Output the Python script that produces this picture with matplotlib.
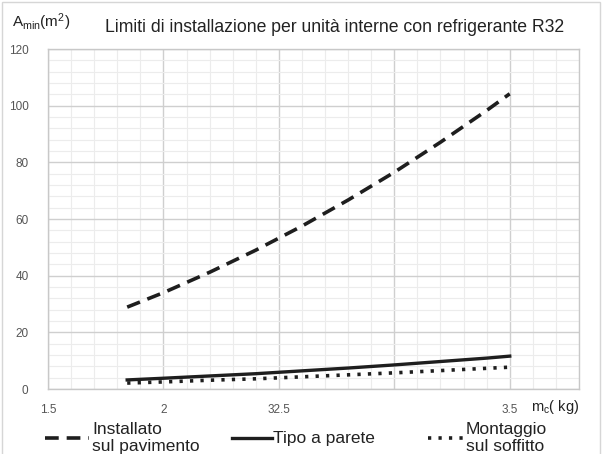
import matplotlib
matplotlib.use("Agg")
import matplotlib.pyplot as plt
from matplotlib.lines import Line2D
from matplotlib.patches import Rectangle
from matplotlib.ticker import MultipleLocator

plt.rcParams['font.family'] = ['Liberation Sans', 'DejaVu Sans']
plt.rcParams['mathtext.fontset'] = 'custom'
plt.rcParams['mathtext.rm'] = 'Liberation Sans'
plt.rcParams['mathtext.it'] = 'Liberation Sans'

# Data
mc = [1.843, 2.0, 2.2, 2.4, 2.6, 2.8, 3.0, 3.2, 3.4, 3.5]
floor_vals = [28.9, 34.0, 41.2, 49.0, 57.5, 66.7, 76.5, 87.1, 98.3, 104.2]
wall_vals = [3.2, 3.8, 4.6, 5.4, 6.4, 7.4, 8.5, 9.7, 10.9, 11.6]
ceiling_vals = [2.1, 2.5, 3.1, 3.6, 4.3, 5.0, 5.7, 6.5, 7.3, 7.7]

x_ticks = [1.5, 2.0, 2.5, 3.0, 3.5]
x_ticklabels = ["1.5", "2", "32.5", "", "3.5"]
y_ticks = [0, 20, 40, 60, 80, 100, 120]

labels = ["Installato\nsul pavimento", "Tipo a parete", "Montaggio\nsul soffitto"]
title = "Limiti di installazione per unità interne con refrigerante R32"

W, H = 609, 454
fig = plt.figure(figsize=(W / 100, H / 100), dpi=100)
ax = fig.add_axes([48 / W, 1 - 389 / H, (579 - 48) / W, (389 - 49) / H])

lc = '#1e1e1e'
ax.plot(mc, floor_vals, color=lc, lw=2.6, linestyle=(0, (3.8, 2.2)), solid_capstyle='butt')
ax.plot(mc, wall_vals, color=lc, lw=2.4, linestyle='-')
ax.plot(mc, ceiling_vals, color=lc, lw=2.6, linestyle=(0, (0.9, 2.0)))

ax.set_xlim(1.5, 3.8)
ax.set_ylim(0, 120)
ax.set_xticks(x_ticks)
ax.set_xticklabels(x_ticklabels)
ax.set_yticks(y_ticks)
ax.xaxis.set_minor_locator(MultipleLocator(0.1))
ax.yaxis.set_minor_locator(MultipleLocator(4))
ax.grid(which='major', color='#cfcfcf', lw=1.0)
ax.grid(which='minor', color='#ececec', lw=0.8)
ax.set_axisbelow(True)
ax.tick_params(which='both', length=0)
ax.tick_params(axis='x', labelsize=8.5, labelcolor='#555555', pad=11)
ax.tick_params(axis='y', labelsize=8.5, labelcolor='#555555', pad=14)
for s in ax.spines.values():
    s.set_color('#c8c8c8')
    s.set_linewidth(1.0)

# Titles / axis labels
fig.text(335 / W, 1 - 28 / H, title, ha='center', va='center', fontsize=12.7, color='#222222')
fig.text(12 / W, 1 - 22 / H, r'A$_{\rm min}$(m$^2$)', ha='left', va='center', fontsize=11, color='#222222')
fig.text(531 / W, 1 - 407 / H, r'm$_{\rm c}$( kg)', ha='left', va='center', fontsize=10.5, color='#222222')

# Legend (manual, below plot)
yl = 1 - 438 / H
legend_items = [
    (45, 89, 92, dict(linestyle=(0, (3.8, 2.2)), lw=2.6)),
    (232, 272, 273, dict(linestyle='-', lw=2.4)),
    (428, 463, 466, dict(linestyle=(0, (0.9, 2.0)), lw=2.6)),
]
for (x0, x1, xt, st), lab in zip(legend_items, labels):
    fig.add_artist(Line2D([x0 / W, x1 / W], [yl, yl], color=lc, transform=fig.transFigure, **st))
    fig.text(xt / W, yl, lab, ha='left', va='center', fontsize=12.5, color='#222222', linespacing=1.12)

# Outer frame
fig.add_artist(Rectangle((2 / W, -0.01), 598 / W, 1 - 2 / H + 0.01, transform=fig.transFigure,
                         fill=False, edgecolor='#d6d6d6', lw=1.0))

fig.savefig('out.png', dpi=100)
